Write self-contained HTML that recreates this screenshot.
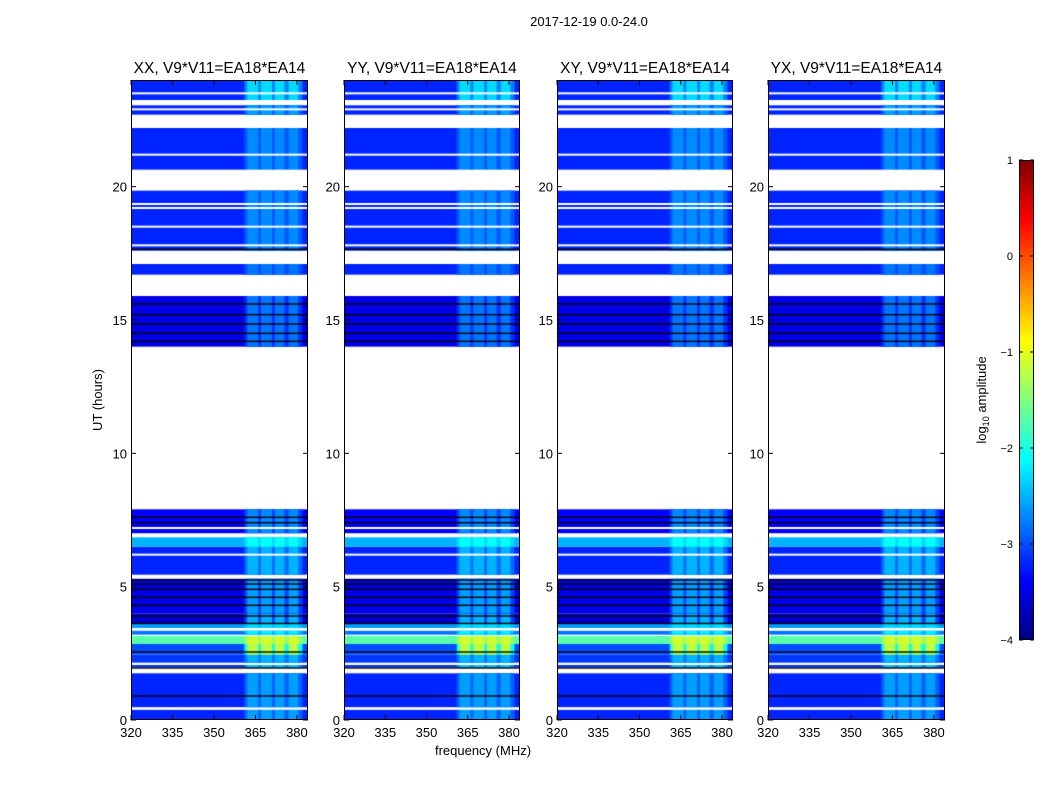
<!DOCTYPE html>
<html><head><meta charset="utf-8">
<style>
body{margin:0;background:#fff;width:1050px;height:800px;overflow:hidden;position:relative;font-family:"Liberation Sans",sans-serif}
canvas{position:absolute}
svg{position:absolute;left:0;top:0}
</style></head><body>
<canvas id="p0" width="177" height="640" style="left:131px;top:80px"></canvas>
<canvas id="p1" width="176" height="640" style="left:344px;top:80px"></canvas>
<canvas id="p2" width="176" height="640" style="left:557px;top:80px"></canvas>
<canvas id="p3" width="177" height="640" style="left:768px;top:80px"></canvas>
<canvas id="cb" width="15" height="480" style="left:1019px;top:160px"></canvas>
<svg id="ov" width="1050" height="800" font-family="Liberation Sans, sans-serif"></svg>
<script>
// data: [startHour, endHour, backgroundLog10, bandLog10]
const segStart=[0.00,0.48,1.97,2.15,2.45,2.85,3.20,3.45,3.60,4.00,5.45,6.50,7.00,14.0,16.7,17.6,20.6,21.45,22.7,23.25];
const segEnd  =[0.40,1.75,2.08,2.45,2.85,3.15,3.35,3.60,4.00,5.30,6.50,6.85,7.90,15.9,17.1,19.85,21.5,22.2,23.05,24.0];
const segBg   =[-3.2,-3.2,-3.1,-3.1,-3.0,-1.7,-2.8,-2.6,-3.6,-3.5,-3.2,-2.5,-3.4,-3.5,-3.2,-3.2,-3.2,-3.2,-3.2,-3.2];
const segBand =[-2.6,-2.6,-2.4,-2.5,-1.2,-1.1,-2.2,-2.3,-2.5,-2.6,-2.5,-2.1,-2.7,-2.8,-2.8,-2.7,-2.7,-2.7,-2.6,-2.3];
const whiteLines=[0.42,2.10,3.40,5.35,6.2,6.95,7.2,17.3,17.8,18.5,19.2,19.35,20.6,21.2,22.4,22.9,23.5];
const blackLines=[0.9,1.95,2.55,3.62,3.9,4.3,4.6,4.9,5.1,5.25,7.4,7.6,14.2,14.5,14.85,15.2,15.6,17.65];
const subBands=[[362,366],[367,371],[372,375.5],[377,380.5]];
const xTicks=[320,335,350,365,380];
const yTicks=[0,5,10,15,20];
const cbTicks=[1,0,-1,-2,-3,-4];
const titles=["XX, V9*V11=EA18*EA14","YY, V9*V11=EA18*EA14","XY, V9*V11=EA18*EA14","YX, V9*V11=EA18*EA14"];
const panelX=[131,344,557,768],panelW=[177,176,176,177];
const TOP=80,H=640,F0=320,F1=384;
function jet(v){let t=(v+4)/5;t=Math.max(0,Math.min(1,t));const c=x=>Math.round(255*Math.max(0,Math.min(1,1.5-Math.abs(4*t-x))));return `rgb(${c(3)},${c(2)},${c(1)})`;}
const yS=h=>H-h*H/24;
for(let p=0;p<4;p++){
  const cv=document.getElementById('p'+p),g=cv.getContext('2d'),W=cv.width;
  const xS=f=>(f-F0)/(F1-F0)*W;
  g.fillStyle='#fff';g.fillRect(0,0,W,H);
  for(let i=0;i<segStart.length;i++){
    const y0=yS(segEnd[i]),y1=yS(segStart[i]);
    g.fillStyle=jet(segBg[i]);g.fillRect(0,y0,W,y1-y0);
    g.fillStyle=jet((segBg[i]+segBand[i])/2);g.fillRect(xS(361),y0,xS(382)-xS(361),y1-y0);
    for(const sb of subBands){g.fillStyle=jet(segBand[i]);g.fillRect(xS(sb[0]),y0,xS(sb[1])-xS(sb[0]),y1-y0);}
  }
  g.fillStyle='#000';for(const h of blackLines)g.fillRect(0,yS(h)-0.7,W,1.4);
  g.fillStyle='#fff';for(const h of whiteLines)g.fillRect(0,yS(h)-1,W,2);
}
{const cv=document.getElementById('cb'),g=cv.getContext('2d');
 for(let y=0;y<480;y++){g.fillStyle=jet(1-y/480*5);g.fillRect(0,y,15,1);}}
const ov=document.getElementById('ov');const NS='http://www.w3.org/2000/svg';
function el(t,a,txt){const e=document.createElementNS(NS,t);for(const k in a)e.setAttribute(k,a[k]);if(txt!==undefined)e.textContent=txt;ov.appendChild(e);return e;}
let e=el('text',{x:589,y:26,'text-anchor':'middle','font-size':13},'2017-12-19 0.0-24.0');


for(let p=0;p<4;p++){
  const X=panelX[p],W=panelW[p];const xS=f=>X+(f-F0)/(F1-F0)*W;
  e=el('rect',{x:X+0.5,y:TOP+0.5,width:W-1,height:H-1,fill:'none',stroke:'#000'});
  
  
  e=el('text',{x:X+W/2,y:TOP-7,'text-anchor':'middle','font-size':15.5},titles[p]);
  
  
  for(const f of xTicks){const x=xS(f);
    el('line',{x1:x,x2:x,y1:TOP+H,y2:TOP+H-5,stroke:'#000'});el('line',{x1:x,x2:x,y1:TOP,y2:TOP+5,stroke:'#000'});
    e=el('text',{x:x,y:TOP+H+17,'text-anchor':'middle','font-size':13},f);
    
    }
  for(const h of yTicks){const y=TOP+yS(h);
    el('line',{x1:X,x2:X+5,y1:y,y2:y,stroke:'#000'});el('line',{x1:X+W,x2:X+W-5,y1:y,y2:y,stroke:'#000'});
    e=el('text',{x:X-4,y:y+5,'text-anchor':'end','font-size':13},h);
    
    }
}
e=el('text',{x:483,y:755,'text-anchor':'middle','font-size':13},'frequency (MHz)');


e=el('text',{x:0,y:0,'text-anchor':'middle','font-size':13,transform:'translate(102,400) rotate(-90)'},'UT (hours)');


el('rect',{x:1019.5,y:160.5,width:14,height:479,fill:'none',stroke:'#000'});
for(const v of cbTicks){const y=160+(1-v)/5*480;
  el('line',{x1:1019,x2:1023,y1:y,y2:y,stroke:'#000'});el('line',{x1:1034,x2:1030,y1:y,y2:y,stroke:'#000'});
  e=el('text',{x:1013,y:y+4,'text-anchor':'end','font-size':11},v<0?'\u2212'+(-v):v);
  
  }
e=el('text',{x:0,y:0,'text-anchor':'middle','font-size':13,transform:'translate(986,400) rotate(-90)'});
e.innerHTML='log<tspan font-size="9" dy="3">10</tspan><tspan dy="-3"> amplitude</tspan>';


</script>
</body></html>
